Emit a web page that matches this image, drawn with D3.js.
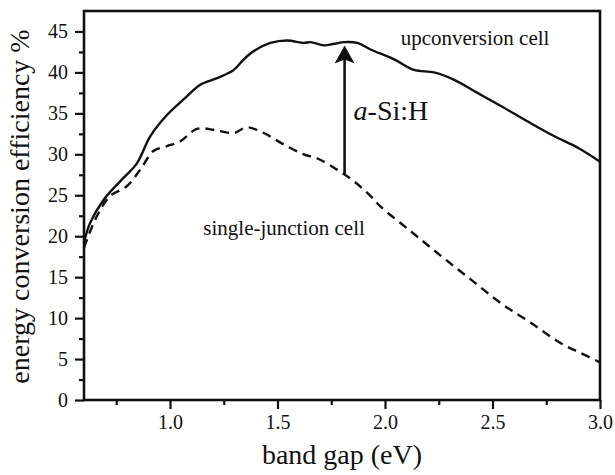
<!DOCTYPE html>
<html>
<head>
<meta charset="utf-8">
<script src="https://cdn.jsdelivr.net/npm/d3@7"></script>
<style>
html,body{margin:0;padding:0;background:#fff;}
svg{display:block;font-family:"Liberation Serif","Times New Roman",serif;}
svg text{font-family:"Liberation Serif","Times New Roman",serif;}
</style>
</head>
<body>
<svg id="chart" width="615" height="475"></svg>
<script>
// ---- data ----
const upconvX = [0.60,0.628,0.69,0.768,0.846,0.908,0.986,1.063,1.141,1.219,1.296,1.343,1.389,1.467,1.545,1.622,1.654,1.716,1.765,1.809,1.871,1.933,2.042,2.135,2.228,2.322,2.43,2.539,2.664,2.788,2.897,3.0];
const upconvY = [19.2,21.6,24.4,26.7,28.9,32.2,34.8,36.7,38.5,39.3,40.3,41.6,42.6,43.6,43.9,43.6,43.7,43.3,43.5,43.7,43.6,42.8,41.6,40.3,40.0,39.1,37.5,35.9,34.0,32.2,30.8,29.1];
const singleX = [0.60,0.659,0.721,0.799,0.861,0.923,0.986,1.048,1.125,1.203,1.296,1.358,1.436,1.529,1.622,1.685,1.778,1.856,1.933,1.98,2.12,2.26,2.40,2.54,2.68,2.82,2.913,3.0];
const singleY = [18.6,22.4,24.9,26.1,28.1,30.4,31.0,31.6,33.1,33.0,32.6,33.3,32.6,31.2,30.0,29.5,28.1,26.7,24.9,23.6,20.6,17.6,14.7,11.8,9.4,6.9,5.7,4.6];
const xTicks = [1.0,1.5,2.0,2.5,3.0];
const xMinorTicks = [0.75,1.25,1.75,2.25,2.75];
const yTicks = [0,5,10,15,20,25,30,35,40,45];
const yMinorTicks = [2.5,7.5,12.5,17.5,22.5,27.5,32.5,37.5,42.5];
const arrowX = 1.812, arrowFrom = 27.5, arrowTo = 43.3;
const labels = [
  {text:"upconversion cell", x:2.073, y:43.3, size:21},
  {text:"single-junction cell", x:1.155, y:20.2, size:21}
];

// ---- layout ----
const svg = d3.select("#chart");
const L = 84, R = 600, T = 11, B = 400;
const x = d3.scaleLinear().domain([0.6,3.0]).range([L,R]);
const y = d3.scaleLinear().domain([0,47.5]).range([B,T]);
const SERIF = '"Liberation Serif","Times New Roman",serif';

// axes
const xAxis = d3.axisBottom(x).tickValues(xTicks).tickFormat(d3.format(".1f")).tickSizeInner(9).tickSizeOuter(0).tickPadding(6);
const xMinor = d3.axisBottom(x).tickValues(xMinorTicks).tickFormat("").tickSizeInner(5).tickSizeOuter(0);
const yAxis = d3.axisLeft(y).tickValues(yTicks).tickFormat(d3.format("d")).tickSizeInner(9).tickSizeOuter(0).tickPadding(7);
const yMinor = d3.axisLeft(y).tickValues(yMinorTicks).tickFormat("").tickSizeInner(5).tickSizeOuter(0);

function styleAxis(g){
  g.attr("font-family",null).attr("font-size",null);
  g.select(".domain").remove();
  g.selectAll(".tick line").attr("stroke","#111").attr("stroke-width",2.2);
  g.selectAll(".tick text").attr("fill","#111").style("font-size","20px").style("font-family",SERIF);
}
svg.append("g").attr("transform",`translate(0,${B})`).call(xAxis).call(styleAxis);
svg.append("g").attr("transform",`translate(0,${B})`).call(xMinor).call(styleAxis);
svg.append("g").attr("transform",`translate(${L},0)`).call(yAxis).call(styleAxis);
svg.append("g").attr("transform",`translate(${L},0)`).call(yMinor).call(styleAxis);

// frame
svg.append("rect").attr("x",L).attr("y",T).attr("width",R-L).attr("height",B-T)
  .attr("fill","none").attr("stroke","#111").attr("stroke-width",2.6);

// lines
const line = d3.line().x(d=>x(d[0])).y(d=>y(d[1])).curve(d3.curveCatmullRom.alpha(0.5));
svg.append("path").datum(upconvX.map((v,i)=>[v,upconvY[i]]))
  .attr("d",line).attr("fill","none").attr("stroke","#111").attr("stroke-width",2.4);
svg.append("path").datum(singleX.map((v,i)=>[v,singleY[i]]))
  .attr("d",line).attr("fill","none").attr("stroke","#111").attr("stroke-width",2.4)
  .attr("stroke-dasharray","9,6");

// arrow
const ax = x(arrowX), y0 = y(arrowFrom), y1 = y(arrowTo);
svg.append("line").attr("x1",ax).attr("x2",ax).attr("y1",y0).attr("y2",y1+12)
  .attr("stroke","#111").attr("stroke-width",2.6);
svg.append("path")
  .attr("d",`M${ax},${y1} L${ax+10},${y1+18} L${ax},${y1+14} L${ax-10},${y1+18} Z`)
  .attr("fill","#111");

// labels
labels.forEach(l=>{
  svg.append("text").attr("x",x(l.x)).attr("y",y(l.y)).style("font-size",l.size+"px")
    .attr("fill","#111").text(l.text);
});
const aLab = svg.append("text").attr("x",x(1.854)).attr("y",y(34.2)).style("font-size","28px").attr("fill","#111");
aLab.append("tspan").attr("font-style","italic").text("a");
aLab.append("tspan").text("-Si:H");

// axis titles
svg.append("text").attr("x",(L+R)/2).attr("y",464).attr("text-anchor","middle")
  .style("font-size","28px").attr("fill","#111").text("band gap (eV)");
svg.append("text").attr("transform",`translate(29,${(T+B)/2+1}) rotate(-90)`).attr("text-anchor","middle")
  .style("font-size","28px").attr("fill","#111").text("energy conversion efficiency %");
</script>
</body>
</html>
